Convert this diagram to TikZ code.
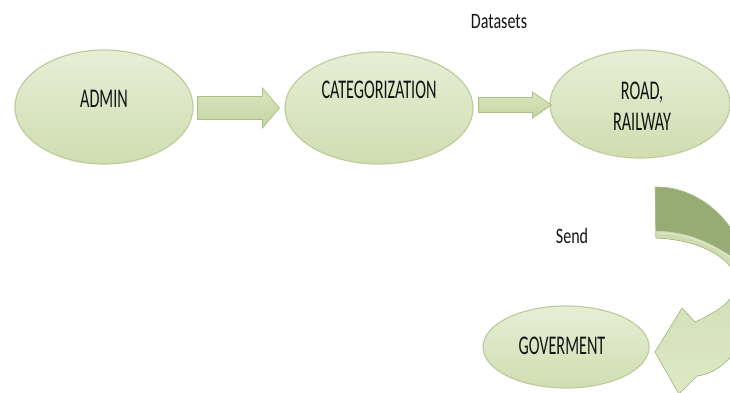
\documentclass[tikz,border=0pt]{standalone}
\usepackage{fontspec}
\setmainfont{Carlito}
\usetikzlibrary{shapes.geometric,calc}
\definecolor{ellTop}{RGB}{231,238,214}
\definecolor{ellBot}{RGB}{208,221,177}
\definecolor{ellEdge}{RGB}{190,205,155}
\definecolor{arrTop}{RGB}{218,229,192}
\definecolor{arrBot}{RGB}{196,213,160}
\definecolor{arrEdge}{RGB}{172,192,134}
\definecolor{darkBand}{RGB}{151,172,116}
\definecolor{lightA}{RGB}{200,215,168}
\definecolor{lightB}{RGB}{222,232,198}
\definecolor{txt}{RGB}{20,20,20}
\newcommand\blockarr[5]{% start, end, shaft half, head half, head length
  \path[barrow] ($(#1)+(0,-#3)$) -- ($(#2)+(-#5,-#3)$) -- ($(#2)+(-#5,-#4)$) -- (#2)
    -- ($(#2)+(-#5,#4)$) -- ($(#2)+(-#5,#3)$) -- ($(#1)+(0,#3)$) -- cycle;}
\begin{document}
\begin{tikzpicture}[x=1pt,y=-1pt,
  ell/.style={ellipse, inner sep=0pt, draw=ellEdge, line width=1.2pt, top color=ellTop, bottom color=ellBot},
  barrow/.style={draw=arrEdge, line width=0.8pt, top color=arrTop, bottom color=arrBot, line join=miter},
  lbl/.style={inner sep=0pt, text=txt, font=\fontsize{27}{31}\selectfont},
  small/.style={inner sep=0pt, text=txt, font=\fontsize{22}{26}\selectfont}]
\useasboundingbox (0,0) rectangle (730,392);
\clip (0,0) rectangle (730,392);

% ellipses
\node[ell, minimum width=178pt, minimum height=114pt] (admin) at (104,107) {};
\node[ell, minimum width=188pt, minimum height=112pt] (cat) at (379,108) {};
\node[ell, minimum width=180pt, minimum height=108pt] (road) at (640,104) {};
\node[ell, minimum width=166pt, minimum height=82pt] (gov) at (566,347) {};

% labels
\node[lbl] (admint) at ([yshift=8pt]admin.center) {\scalebox{0.6}[1]{ADMIN}};
\node[lbl] (catt) at ([yshift=18pt]cat.center) {\scalebox{0.6}[1]{CATEGORIZATION}};
\node[lbl] (roadt) at ([xshift=2pt,yshift=-5pt]road.center) {\scalebox{0.6}[1]{\begin{tabular}{@{}c@{}}ROAD,\\RAILWAY\end{tabular}}};
\node[lbl] (govt) at ([xshift=-4pt,yshift=1pt]gov.center) {\scalebox{0.6}[1]{GOVERMENT}};
\node[small] (data) at (499,22) {\scalebox{0.73}[1]{Datasets}};
\node[small] (send) at (572,236) {\scalebox{0.73}[1]{Send}};

% block arrows
\coordinate (a1s) at ([xshift=4pt,yshift=-1pt]admin.east);
\coordinate (a1e) at ([xshift=-5pt]cat.west);
\blockarr{a1s}{a1e}{11.5}{20}{17}
\coordinate (a2s) at ([xshift=5pt,yshift=3pt]cat.east);
\coordinate (a2e) at ([xshift=2pt,yshift=-1pt]road.west);
\blockarr{a2s}{a2e}{7.5}{13}{19}

% curved arrow from road to gov
\begin{scope}
\clip (655,187) .. controls (700,186) and (748,225) .. (750,290)
  .. controls (750,340) and (728,372) .. (697,376) -- (679,394) -- (655,352)
  -- (682,308) -- (695,322) .. controls (718,312) and (737,298) .. (737,284)
  .. controls (737,262) and (705,240) .. (656,238) -- cycle;
\fill[top color=lightA, bottom color=lightB] (640,180) rectangle (760,400);
\fill[darkBand] (640,180) -- (760,180) -- (760,278) .. controls (722,246) and (692,231) .. (656,231) -- (640,231) -- cycle;
\draw[lightB, line width=1.2pt] (760,280) .. controls (722,248) and (692,233) .. (656,233);
\end{scope}
\draw[arrEdge, line width=0.6pt, line join=miter] (655,187) .. controls (700,186) and (748,225) .. (750,290)
  .. controls (750,340) and (728,372) .. (697,376) -- (679,394) -- (655,352)
  -- (682,308) -- (695,322) .. controls (718,312) and (737,298) .. (737,284)
  .. controls (737,262) and (705,240) .. (656,238) -- cycle;
\end{tikzpicture}
\end{document}
